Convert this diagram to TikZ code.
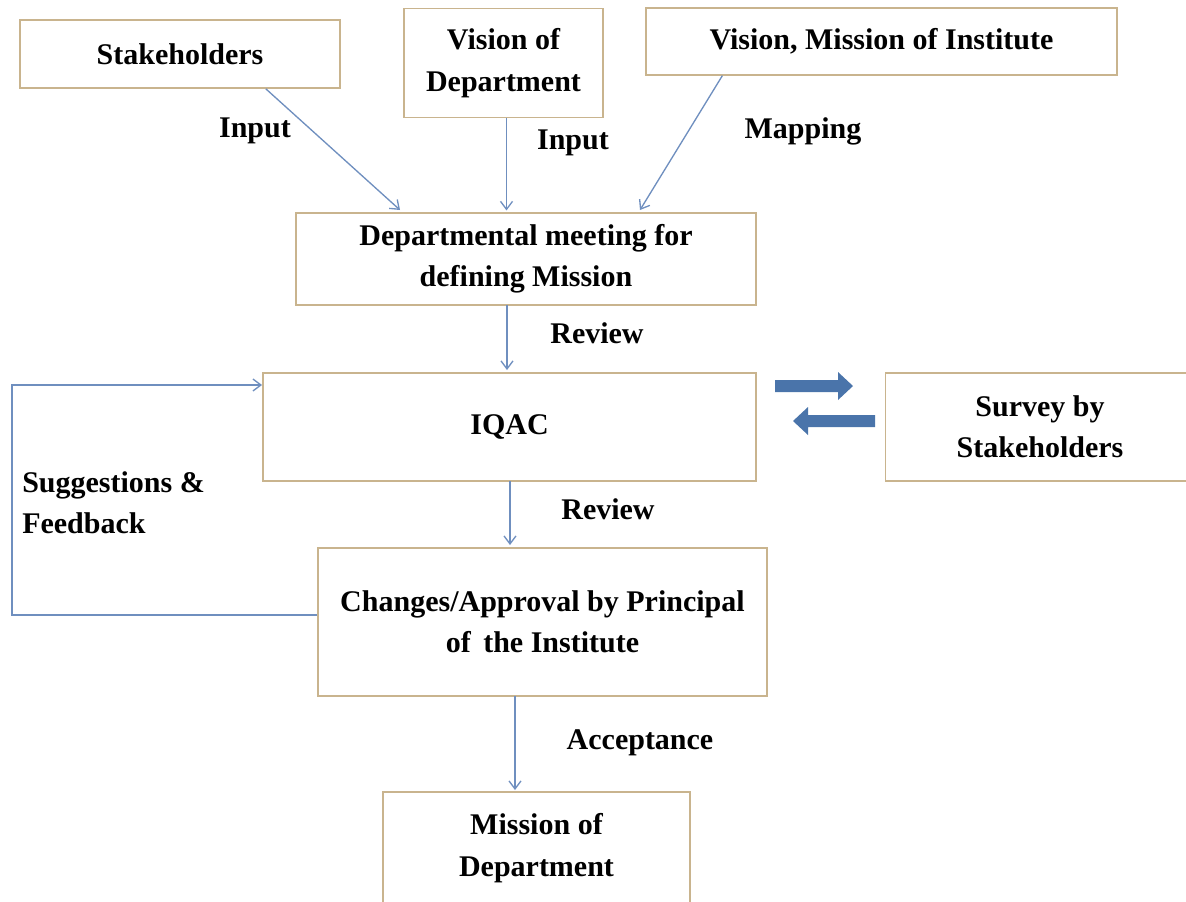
\documentclass[tikz,border=0pt]{standalone}
\usepackage{fontspec}
\setmainfont{Liberation Serif}
\usetikzlibrary{arrows.meta}
\definecolor{boxline}{HTML}{C9B48E}
\definecolor{conn}{HTML}{6F8FBF}
\definecolor{bigarrow}{HTML}{4A74AA}
\begin{document}
\begin{tikzpicture}[x=0.75pt,y=-0.75pt,
  box/.style={draw=boxline,line width=1.2pt,fill=white,align=center,inner sep=0pt,
    font=\fontsize{22.5}{31}\selectfont\bfseries},
  lbl/.style={font=\fontsize{22.5}{31}\selectfont\bfseries,inner sep=0pt},
  conn/.style={draw=conn,line width=1pt,-{Straight Barb[length=6pt,width=9pt]}},
  fat/.style={fill=bigarrow,draw=none}]
\useasboundingbox (0,0) rectangle (1186,901);
\node[box,minimum width=240pt,minimum height=51pt] (stake) at (180,54) {Stakeholders};
\node[box,minimum width=149pt,minimum height=82pt] (visdep) at (503.5,63) {Vision of\\Department};
\node[box,minimum width=353pt,minimum height=50pt] (visinst) at (881.5,41.5) {Vision, Mission of Institute};
\node[box,minimum width=345pt,minimum height=69pt] (meet) at (526,259) {Departmental meeting for\\defining Mission};
\node[box,minimum width=370pt,minimum height=81pt] (iqac) at (509.5,427) {IQAC};
\node[box,minimum width=232pt,minimum height=81pt] (survey) at (1040,427) {Survey by\\Stakeholders};
\node[box,minimum width=337pt,minimum height=111pt] (appr) at (542.5,622) {Changes/Approval by Principal\\of\, the Institute};
\node[box,minimum width=230pt,minimum height=84pt] (mission) at (536.5,848) {Mission of\\Department};
\coordinate (m1) at (400,210);
\coordinate (m3) at (640,210);
\draw[conn] (stake.south east) ++(-75,0) coordinate (s1) -- (m1);
\draw[conn] (visdep.south) ++(3,0) -- ++(0,92);
\draw[conn] (visinst.south west) ++(77,0) -- (m3);
\draw[conn] (507,305) -- (507,370);
\draw[conn] (510,481) -- (510,545);
\draw[conn] (515,696) -- (515,790);
\draw[conn] (appr.west) ++(0,-7) -- (12,615) -- (12,385) -- (iqac.west |- 0,385);
% thick double arrows
\fill[fat] (775,380) -- (838,380) -- (838,372) -- (853,386) -- (838,400) -- (838,392) -- (775,392) -- cycle;
\fill[fat] (875,415) -- (808,415) -- (808,407) -- (793,421) -- (808,435) -- (808,427) -- (875,427) -- cycle;
\node[lbl] (in1) at (255,131) {Input};
\node[lbl] (in2) at (573,143) {Input};
\node[lbl] (map) at (803,131) {Mapping};
\node[lbl] (rev1) at (597,333) {Review};
\node[lbl] (rev2) at (608,509) {Review};
\node[lbl,anchor=west,align=left] (sug) at (22,503) {Suggestions \&\\Feedback};
\node[lbl] (acc) at (640,743) {Acceptance};
\end{tikzpicture}
\end{document}
